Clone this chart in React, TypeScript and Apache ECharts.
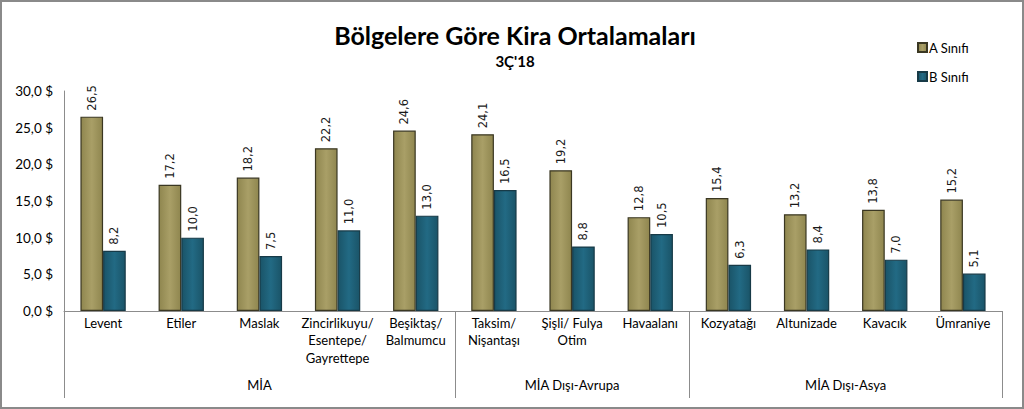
import React, { useEffect, useRef } from "react";
import * as echarts from "echarts";

const categories = [
  "Levent",
  "Etiler",
  "Maslak",
  "Zincirlikuyu/\nEsentepe/\nGayrettepe",
  "Beşiktaş/\nBalmumcu",
  "Taksim/\nNişantaşı",
  "Şişli/ Fulya\nOtim",
  "Havaalanı",
  "Kozyatağı",
  "Altunizade",
  "Kavacık",
  "Ümraniye",
];
const aValues = [26.5, 17.2, 18.2, 22.2, 24.6, 24.1, 19.2, 12.8, 15.4, 13.2, 13.8, 15.2];
const bValues = [8.2, 10.0, 7.5, 11.0, 13.0, 16.5, 8.8, 10.5, 6.3, 8.4, 7.0, 5.1];
const groups = [
  { name: "MİA", start: 0, end: 5 },
  { name: "MİA Dışı-Avrupa", start: 5, end: 8 },
  { name: "MİA Dışı-Asya", start: 8, end: 12 },
];
const seriesNames = ["A Sınıfı", "B Sınıfı"];
const yTicks = { min: 0, max: 30, interval: 5 };

const FONT = "Lato, 'Open Sans', sans-serif";

export default function App() {
  const ref = useRef<HTMLDivElement>(null);
  useEffect(() => {
    if (!ref.current) return;
    const chart = echarts.init(ref.current, null, { renderer: "svg" });
    const gradA = new echarts.graphic.LinearGradient(0, 0, 1, 0, [
      { offset: 0, color: "#8f864f" },
      { offset: 0.5, color: "#a99f67" },
      { offset: 1, color: "#8f864f" },
    ]);
    const gradB = new echarts.graphic.LinearGradient(0, 0, 1, 0, [
      { offset: 0, color: "#1a5468" },
      { offset: 0.5, color: "#226a84" },
      { offset: 1, color: "#1a5468" },
    ]);
    const labelCfg = {
      show: true,
      position: "top" as const,
      rotate: 90,
      align: "left" as const,
      verticalAlign: "middle" as const,
      distance: 6,
      fontFamily: "'DejaVu Sans', sans-serif",
      fontSize: 11.5,
      color: "#1a1a1a",
      formatter: (p: any) => p.value.toFixed(1).replace(".", ","),
    };
    chart.setOption({
      animation: false,
      backgroundColor: "#ffffff",
      title: [
        {
          text: "Bölgelere Göre Kira Ortalamaları",
          left: 510,
          top: 17,
          textAlign: "center",
          textStyle: { fontFamily: FONT, fontWeight: "bold", fontSize: 25, color: "#000" },
        },
        {
          text: "3Ç'18",
          left: 510,
          top: 48,
          textAlign: "center",
          textStyle: { fontFamily: FONT, fontWeight: "bold", fontSize: 15, color: "#000" },
        },
      ],
      legend: {
        orient: "vertical",
        left: 912,
        top: 36,
        itemWidth: 9,
        itemHeight: 9,
        itemGap: 16,
        icon: "rect",
        textStyle: { fontFamily: FONT, fontSize: 13, color: "#000", padding: [0, 0, 0, -3] },
        data: seriesNames,
      },
      grid: { left: 64, right: 22, top: 91, bottom: 98 },
      xAxis: [
        {
          type: "category",
          data: categories,
          axisLine: { show: true, lineStyle: { color: "#8c8c8c", width: 1 } },
          axisTick: { show: false },
          axisLabel: {
            interval: 0,
            fontFamily: FONT,
            fontSize: 13,
            color: "#000",
            lineHeight: 17.5,
            margin: 3,
          },
        },
        {
          type: "value",
          min: 0,
          max: 12,
          show: false,
        },
      ],
      yAxis: {
        type: "value",
        min: yTicks.min,
        max: yTicks.max,
        interval: yTicks.interval,
        axisLine: { show: true, lineStyle: { color: "#8c8c8c", width: 1 } },
        axisTick: { show: false },
        splitLine: { show: false },
        axisLabel: {
          fontFamily: FONT,
          fontSize: 13.5,
          color: "#000",
          margin: 11,
          formatter: (v: number) => v.toFixed(1).replace(".", ",") + " $",
        },
      },
      series: [
        {
          name: seriesNames[0],
          type: "bar",
          data: aValues,
          barWidth: "29%",
          barGap: "0%",
          itemStyle: { color: gradA, borderColor: "#3a3722", borderWidth: 1.2 },
          label: labelCfg,
        },
        {
          name: seriesNames[1],
          type: "bar",
          data: bValues,
          barWidth: "29%",
          barGap: "0%",
          itemStyle: { color: gradB, borderColor: "#173a47", borderWidth: 1.2 },
          label: labelCfg,
        },
      ],
    });

    const px = (v: number) => chart.convertToPixel({ xAxisIndex: 1 }, v) as number;
    const yTop = chart.convertToPixel({ yAxisIndex: 0 }, 0) as number;
    const yBottom = 398;
    const boundaries = [0, ...groups.map((g) => g.end)];
    const graphics: any[] = [
      {
        type: "rect",
        shape: { x: 1, y: 1, width: 1022, height: 407 },
        style: { fill: "none", stroke: "#8a8a8a", lineWidth: 2 },
        silent: true,
      },
    ];
    boundaries.forEach((b) => {
      const x = Math.round(px(b)) + 0.5;
      graphics.push({
        type: "line",
        shape: { x1: x, y1: yTop, x2: x, y2: yBottom },
        style: { stroke: "#8c8c8c", lineWidth: 1 },
        silent: true,
      });
    });
    groups.forEach((g) => {
      graphics.push({
        type: "text",
        x: px((g.start + g.end) / 2),
        y: 385,
        style: {
          text: g.name,
          fontFamily: FONT,
          fontSize: 13,
          fill: "#000",
          align: "center",
          verticalAlign: "middle",
        },
        silent: true,
      });
    });
    chart.setOption({ graphic: graphics });

    return () => chart.dispose();
  }, []);
  return (
    <div
      ref={ref}
      style={{ position: "fixed", left: 0, top: 0, width: 1024, height: 409 }}
    />
  );
}
